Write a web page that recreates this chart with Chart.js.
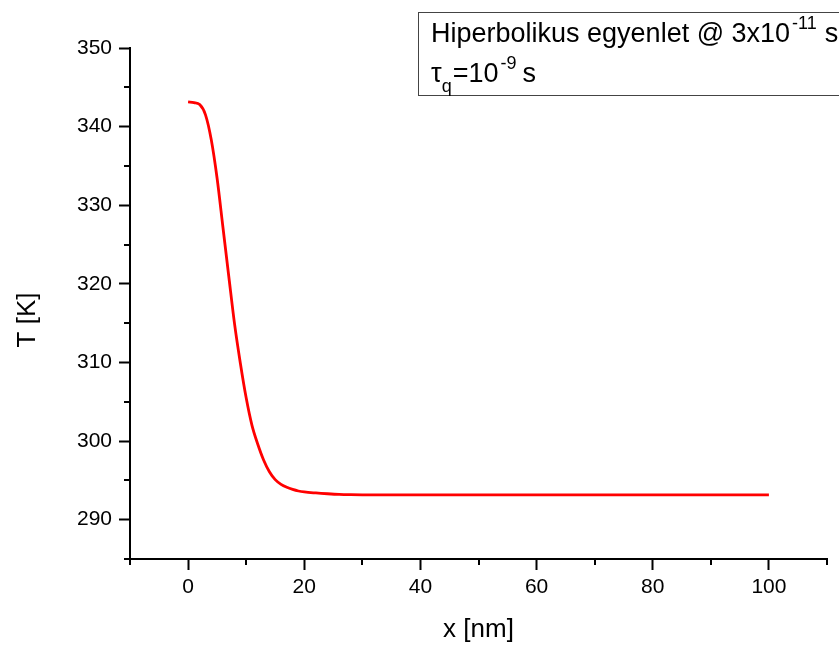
<!DOCTYPE html>
<html>
<head>
<meta charset="utf-8">
<script src="https://cdn.jsdelivr.net/npm/chart.js@4/dist/chart.umd.min.js"></script>
<style>
html,body{margin:0;padding:0;background:#fff;}
#wrap{width:839px;height:647px;}
</style>
</head>
<body>
<div id="wrap"><canvas id="c" width="839" height="647"></canvas></div>
<script>
// ---- data ----
const xPositions = [0,1,2,3,4,5,6,7,8,9,10,11,12,13,14,15,16,17,18,19,20,22,24,26,28,30,35,40,50,60,70,80,90,100];
const temperatures = [343.15,343.05,342.8,341.5,338.3,333.4,327.2,321.0,314.9,309.9,305.5,302.0,299.6,297.6,296.1,295.1,294.5,294.12,293.85,293.65,293.53,293.4,293.3,293.22,293.18,293.16,293.15,293.15,293.15,293.15,293.15,293.15,293.15,293.15];
const xMajorTicks = [0,20,40,60,80,100];
const xMinorTicks = [-10,10,30,50,70,90,110];
const yMajorTicks = [290,300,310,320,330,340,350];
const yMinorTicks = [285,295,305,315,325,335,345];
const xTitle = 'x [nm]';
const yTitle = 'T [K]';
const seriesLabel = 'Hiperbolikus egyenlet @ 3x10-11 s';

const FONT = '"Liberation Sans", Arial, sans-serif';

const minorTicksPlugin = {
  id: 'minorTicks',
  afterDraw(chart) {
    const ctx = chart.ctx;
    const xs = chart.scales.x, ys = chart.scales.y;
    const area = chart.chartArea;
    ctx.save();
    ctx.strokeStyle = '#000';
    ctx.lineWidth = 2;
    ctx.beginPath();
    xMinorTicks.forEach(v => {
      const px = Math.round(xs.getPixelForValue(v));
      ctx.moveTo(px, area.bottom); ctx.lineTo(px, area.bottom + 6);
    });
    yMinorTicks.forEach(v => {
      const py = Math.round(ys.getPixelForValue(v));
      ctx.moveTo(area.left, py); ctx.lineTo(area.left - 6, py);
    });
    ctx.stroke();

    // axis titles
    ctx.fillStyle = '#000';
    ctx.font = '26px ' + FONT;
    ctx.textAlign = 'center';
    ctx.textBaseline = 'middle';
    ctx.fillText(xTitle, (area.left + area.right) / 2, 630);
    ctx.save();
    ctx.translate(28, 320);
    ctx.rotate(-Math.PI / 2);
    ctx.fillText(yTitle, 0, 0);
    ctx.restore();

    // legend box
    ctx.strokeStyle = '#444';
    ctx.lineWidth = 1;
    ctx.strokeRect(418.5, 12.5, 440, 83);
    ctx.textAlign = 'left';
    ctx.textBaseline = 'alphabetic';
    const big = '27px ' + FONT, small = '18px ' + FONT;
    const parts1 = [['Hiperbolikus egyenlet @ 3x10', big, 42, 2], ['-11', small, 29, 8], ['s', big, 42, 0]];
    const parts2 = [['\u03C4', big, 82, 0], ['q', small, 92, 1], ['=10', big, 82, 2], ['-9', small, 69, 6], ['s', big, 82, 0]];
    [parts1, parts2].forEach(parts => {
      let x = 431;
      parts.forEach(([t, f, y, gap]) => {
        ctx.font = f;
        ctx.fillText(t, x, y);
        x += ctx.measureText(t).width + gap;
      });
    });
    ctx.restore();
  }
};

new Chart(document.getElementById('c'), {
  type: 'line',
  data: {
    datasets: [{
      label: seriesLabel,
      data: xPositions.map((x, i) => ({x: x, y: temperatures[i]})),
      borderColor: '#ff0000',
      borderWidth: 2.8,
      pointRadius: 0,
      fill: false,
      cubicInterpolationMode: 'monotone'
    }]
  },
  options: {
    responsive: false,
    animation: false,
    layout: { padding: { top: 48, right: 12, left: 0, bottom: 0 } },
    plugins: { legend: { display: false }, tooltip: { enabled: false } },
    scales: {
      x: {
        type: 'linear',
        min: -10, max: 110,
        afterFit(s) { s.height = 88; },
        afterBuildTicks(s) { s.ticks = xMajorTicks.map(v => ({value: v})); },
        border: { display: true, color: '#000', width: 2 },
        grid: { drawOnChartArea: false, drawTicks: true, tickLength: 11, tickColor: '#000', tickWidth: 2 },
        ticks: { color: '#000', font: { size: 21, family: FONT }, padding: 5, maxRotation: 0, autoSkip: false }
      },
      y: {
        type: 'linear',
        min: 285, max: 350,
        afterFit(s) { s.width = 130; },
        afterBuildTicks(s) { s.ticks = yMajorTicks.map(v => ({value: v})); },
        border: { display: true, color: '#000', width: 2 },
        grid: { drawOnChartArea: false, drawTicks: true, tickLength: 11, tickColor: '#000', tickWidth: 2 },
        ticks: { color: '#000', font: { size: 21, family: FONT }, padding: 7, autoSkip: false }
      }
    }
  },
  plugins: [minorTicksPlugin]
});
</script>
</body>
</html>
